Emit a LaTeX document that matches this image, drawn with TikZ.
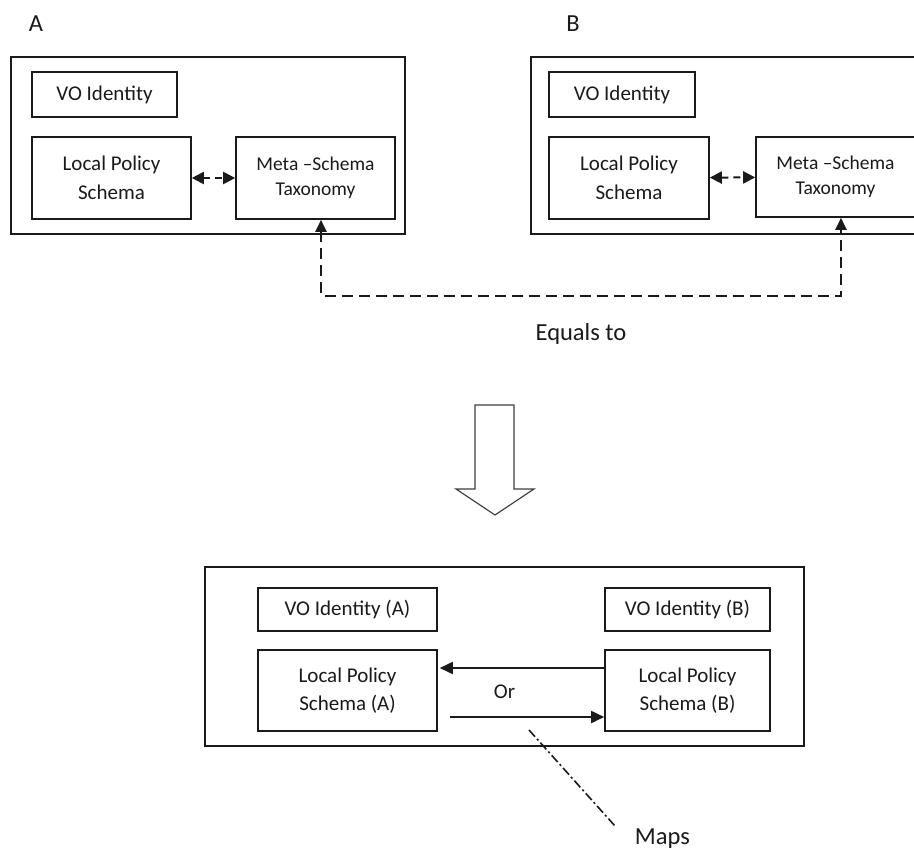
\documentclass[tikz,border=0pt]{standalone}
\usepackage{fontspec}
\setmainfont{Carlito}
\usetikzlibrary{arrows.meta}
\definecolor{ink}{HTML}{1A1A1A}
\begin{document}
\begin{tikzpicture}[x=1pt,y=-1pt,
  outerframe/.style={draw=ink, line width=1.7pt, inner sep=0pt},
  cell/.style={draw=ink, line width=1.6pt, inner sep=0pt, align=center, text=ink,
    font=\fontsize{21}{28.5}\selectfont},
  metacell/.style={cell, font=\fontsize{19.5}{25}\selectfont},
  plaintext/.style={text=ink, inner sep=0pt, anchor=base, font=\fontsize{24.5}{29}\selectfont},
  headarrow/.style={-{Triangle[length=13pt,width=12pt]}, line width=1.8pt, draw=ink},
  linkdash/.style={{Triangle[length=12pt,width=12pt]}-{Triangle[length=12pt,width=12pt]},
    line width=2pt, draw=ink, dash pattern=on 7pt off 5pt},
  longdash/.style={{Triangle[length=12pt,width=11pt]}-{Triangle[length=12pt,width=11pt]},
    line width=2pt, draw=ink, dash pattern=on 11pt off 6pt},
  dashdot/.style={line width=1.6pt, draw=ink, dash pattern=on 9pt off 3pt on 2pt off 3pt}
]
\clip (0,0) rectangle (914,851);
\fill[white] (0,0) rectangle (914,851);

% ---- upper left group A ----
\node[plaintext] (labA) at (36,32) {A};
\node[outerframe, minimum width=394pt, minimum height=177pt] (boxA) at (208,145.5) {};
\node[cell, minimum width=145pt, minimum height=45pt] (voA) at (104.5,94.5) {VO Identity};
\node[cell, minimum width=159pt, minimum height=82pt] (lpsA) at (111.5,178) {Local Policy\\Schema};
\node[metacell, minimum width=159pt, minimum height=82pt] (metaA) at (315.5,178) {Meta –Schema\\Taxonomy};
\draw[linkdash] (lpsA) -- (metaA);

% ---- upper right group B ----
\node[plaintext] (labB) at (573,32) {B};
\node[outerframe, minimum width=394pt, minimum height=177pt] (boxB) at (728,145.5) {};
\node[cell, minimum width=146pt, minimum height=45pt] (voB) at (622,94.5) {VO Identity};
\node[cell, minimum width=160pt, minimum height=82pt] (lpsB) at (629,178) {Local Policy\\Schema};
\node[metacell, minimum width=159pt, minimum height=80pt] (metaB) at (835.5,177) {Meta –Schema\\Taxonomy};
\draw[linkdash] (lpsB) -- (metaB);

% ---- equivalence link between the two taxonomies ----
\draw[longdash] ([xshift=5.5pt]metaA.south) -- ++(0,76) -| ([xshift=5.5pt]metaB.south);
\node[plaintext] (equals) at (581,340) {Equals to};

% ---- hollow down arrow ----
\draw[line width=1.2pt, draw=black!75, line join=miter]
  (475,405) -- (514,405) -- (514,489) -- (534,489) -- (495,515) -- (456,489) -- (475,489) -- cycle;

% ---- merged group ----
\node[outerframe, minimum width=599pt, minimum height=179pt] (boxC) at (504.5,656.5) {};
\node[cell, minimum width=179pt, minimum height=43pt] (voCA) at (347.5,609.5) {VO Identity (A)};
\node[cell, minimum width=179pt, minimum height=81pt] (lpsCA) at (347.5,690.5) {Local Policy\\Schema (A)};
\node[cell, minimum width=165pt, minimum height=43pt] (voCB) at (687.5,609.5) {VO Identity (B)};
\node[cell, minimum width=165pt, minimum height=81pt] (lpsCB) at (687.5,690.5) {Local Policy\\Schema (B)};
\draw[headarrow] ([yshift=22.5pt]lpsCB.west) -- ([yshift=22.5pt,xshift=2pt]lpsCA.east);
\draw[headarrow] ([yshift=-26.5pt,xshift=12pt]lpsCA.east) -- ([yshift=-26.5pt]lpsCB.west);
\node[plaintext, font=\fontsize{21}{26}\selectfont] (orlab) at (504.5,698) {Or};

% ---- maps annotation ----
\node[plaintext] (maps) at (662.5,844) {Maps};
\coordinate (mapsfrom) at (529,730);
\coordinate (mapsto) at (615,826);
\draw[dashdot] (mapsfrom) -- (mapsto);
\end{tikzpicture}
\end{document}
